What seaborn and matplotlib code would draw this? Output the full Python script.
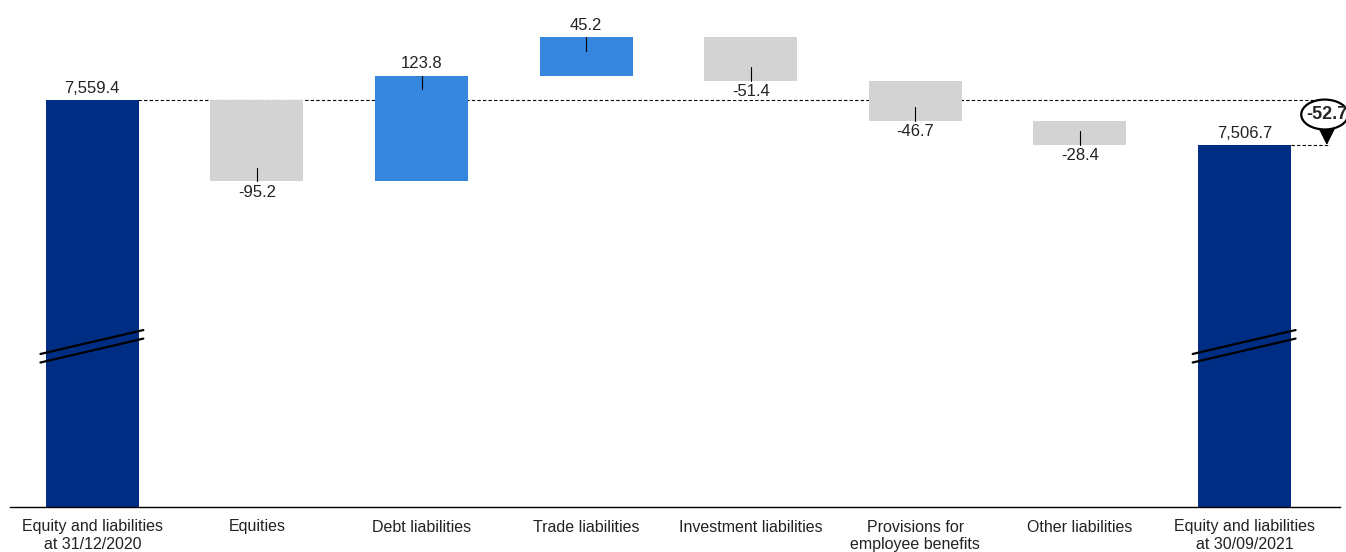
import matplotlib
matplotlib.use("Agg")
import matplotlib.pyplot as plt
import seaborn as sns
import numpy as np
from matplotlib.patches import Ellipse

categories = ["Equity and liabilities\nat 31/12/2020", "Equities", "Debt liabilities",
              "Trade liabilities", "Investment liabilities", "Provisions for\nemployee benefits",
              "Other liabilities", "Equity and liabilities\nat 30/09/2021"]
start_total = 7559.4
changes = [-95.2, 123.8, 45.2, -51.4, -46.7, -28.4]
end_total = 7506.7
total_change = -52.7

NAVY = "#002D84"
BLUE = "#3586DD"
GREY = "#D3D3D3"

sns.set_theme(style="white")
plt.rcParams["font.family"] = ["Liberation Sans Narrow", "Liberation Sans", "DejaVu Sans"]

y_lo, y_hi = 7082.8, 7676.5

# compute waterfall bottoms/heights
bottoms, heights, colors = [], [], []
bottoms.append(y_lo); heights.append(start_total - y_lo); colors.append(NAVY)
cum = start_total
for c in changes:
    if c >= 0:
        bottoms.append(cum); heights.append(c); colors.append(BLUE)
    else:
        bottoms.append(cum + c); heights.append(-c); colors.append(GREY)
    cum += c
bottoms.append(y_lo); heights.append(end_total - y_lo); colors.append(NAVY)

fig = plt.figure(figsize=(13.46, 5.52), dpi=100)
ax = fig.add_axes([10/1346, 45/552, 1330/1346, 507/552])

sns.barplot(x=categories, y=heights, bottom=bottoms, color=GREY, width=0.565,
            ax=ax, zorder=2, linewidth=0)
for p, col in zip(ax.patches, colors):
    p.set_facecolor(col)

ax.set_xlim(-0.5, 7.58)
ax.set_ylim(y_lo, y_hi)

# dashed connector lines
ax.plot([0.28, 7.52], [start_total, start_total], ls=(0, (3, 2)), color="black", lw=0.8, zorder=1)
ax.plot([7.28, 7.52], [end_total, end_total], ls=(0, (3, 2)), color="black", lw=0.8, zorder=1)

fs = 12
lbl_col = "#222222"
box = dict(facecolor="white", edgecolor="none", pad=0.5)
# total labels
ax.text(0, start_total + 5, f"{start_total:,.1f}", ha="center", va="bottom", fontsize=fs, color=lbl_col)
ax.text(7, end_total + 5, f"{end_total:,.1f}", ha="center", va="bottom", fontsize=fs, color=lbl_col)

cum = start_total
tick_len = 16
for i, c in enumerate(changes, start=1):
    new = cum + c
    top = max(cum, new); bot = min(cum, new)
    if c >= 0:
        ax.plot([i, i], [top, top - tick_len], color="black", lw=0.8, zorder=3)
        ax.text(i, top + 5, f"{c:,.1f}", ha="center", va="bottom", fontsize=fs, color=lbl_col,
                bbox=box, zorder=3)
    else:
        ax.plot([i, i], [bot, bot + tick_len], color="black", lw=0.8, zorder=3)
        ax.text(i, bot - 4, f"{c:,.1f}", ha="center", va="top", fontsize=fs, color=lbl_col,
                bbox=box, zorder=3)
    cum = new

# axis break marks on total bars
for xc in (0, 7):
    for dy in (0, -10):
        ax.plot([xc - 0.315, xc + 0.31], [7262 + dy, 7290 + dy], color="black", lw=1.6, zorder=4,
                clip_on=False)

# total change annotation
ell_y = start_total - 17
ax.annotate("", xy=(7.5, end_total), xytext=(7.5, ell_y - 10),
            arrowprops=dict(arrowstyle="-|>,head_length=0.9,head_width=0.45", color="black",
                            lw=1.2, mutation_scale=14, shrinkA=0, shrinkB=0), zorder=5)
ell = Ellipse((7.487, ell_y), width=0.285, height=35, facecolor="white",
              edgecolor="black", lw=1.6, zorder=6, clip_on=False)
ax.add_patch(ell)
ax.text(7.50, ell_y, f"{total_change:,.1f}", ha="center", va="center", fontsize=13,
        fontweight="bold", zorder=7, clip_on=False)

sns.despine(ax=ax, left=True, top=True, right=True)
ax.spines["bottom"].set_color("black")
ax.spines["bottom"].set_linewidth(1.0)
ax.set_yticks([])
ax.tick_params(axis="x", length=0, pad=9, labelsize=11.5, colors=lbl_col)
ax.set_xlabel(""); ax.set_ylabel("")

fig.savefig("out.png", dpi=100)
